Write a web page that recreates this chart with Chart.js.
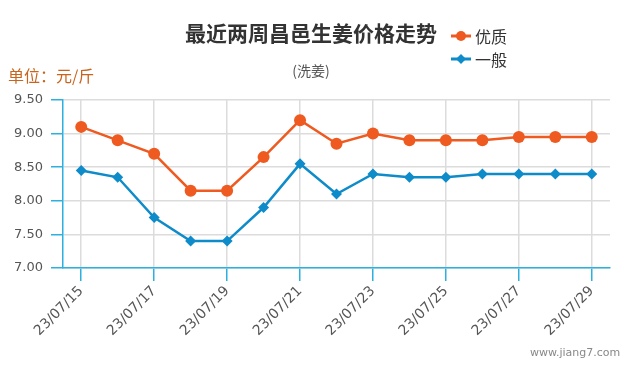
<!DOCTYPE html>
<html>
<head>
<meta charset="utf-8">
<script src="https://cdn.jsdelivr.net/npm/chart.js@4"></script>
<style>
  body { margin: 0; background: #fff; }
  #wrap { position: relative; width: 635px; height: 375px; font-family: "Noto Sans CJK SC", "DejaVu Sans", sans-serif; }
  #chart { position: absolute; left: 0; top: 0; }
  .txt { position: absolute; white-space: nowrap; line-height: 1; }
  #title { left: 0; width: 622px; top: 22px; text-align: center; font-size: 21px; font-weight: bold; color: #333; }
  #sub { left: 0; width: 622px; top: 63px; text-align: center; font-size: 14px; color: #555; }
  #unit { left: 8px; top: 67px; font-size: 16px; color: #c8641c; }
  #legend { left: 451px; top: 24px; font-size: 16px; color: #333; }
  .item { display: flex; align-items: center; height: 23px; }
  .item canvas { margin-right: 4px; }
  #mark { left: 530px; top: 347px; font-size: 11px; color: #888; font-family: "DejaVu Sans", sans-serif; }
</style>
</head>
<body>
<div id="wrap">
  <canvas id="chart" width="635" height="375"></canvas>
  <div class="txt" id="title">最近两周昌邑生姜价格走势</div>
  <div class="txt" id="sub">(洗姜)</div>
  <div class="txt" id="unit">单位：元/斤</div>
  <div class="txt" id="legend"></div>
  <div class="txt" id="mark">www.jiang7.com</div>
</div>
<script>
// ── data ─────────────────────────────────────────────────────────────────────
const dates = [
  '23/07/15', '23/07/16', '23/07/17', '23/07/18', '23/07/19',
  '23/07/20', '23/07/21', '23/07/22', '23/07/23', '23/07/24',
  '23/07/25', '23/07/26', '23/07/27', '23/07/28', '23/07/29',
];
const premium = [9.10, 8.90, 8.70, 8.15, 8.15, 8.65, 9.20, 8.85, 9.00, 8.90, 8.90, 8.90, 8.95, 8.95, 8.95];
const regular = [8.45, 8.35, 7.75, 7.40, 7.40, 7.90, 8.55, 8.10, 8.40, 8.35, 8.35, 8.40, 8.40, 8.40, 8.40];
const seriesNames = ['优质', '一般'];

// ── styling ──────────────────────────────────────────────────────────────────
const ORANGE = '#ee5a1f';
const BLUE = '#0e8bc9';
const AXIS = '#2cb0e0';
const GRID = '#dcdcdc';

const series = [
  { label: seriesNames[0], data: premium, color: ORANGE, style: 'circle', radius: 6 },
  { label: seriesNames[1], data: regular, color: BLUE, style: 'rectRot', radius: 5.5 },
];

new Chart(document.getElementById('chart'), {
  type: 'line',
  data: {
    labels: dates,
    datasets: series.map(s => ({
      label: s.label,
      data: s.data,
      borderColor: s.color,
      backgroundColor: s.color,
      borderWidth: 2.5,
      pointStyle: s.style,
      pointRadius: s.radius,
      pointBorderWidth: 0,
      tension: 0,
    })),
  },
  options: {
    responsive: false,
    animation: false,
    layout: { padding: { left: 0, right: 25, top: 100, bottom: 0 } },
    plugins: { legend: { display: false }, tooltip: { enabled: false } },
    scales: {
      x: {
        offset: true,
        afterFit: s => { s.height = 107; },
        grid: {
          color: c => (c.index % 2 === 0 ? GRID : 'rgba(0,0,0,0)'),
          tickColor: c => (c.index % 2 === 0 ? AXIS : 'rgba(0,0,0,0)'),
          tickLength: 13,
          lineWidth: 1.5,
        },
        border: { color: AXIS, width: 1.5 },
        ticks: {
          autoSkip: false,
          maxRotation: 45,
          minRotation: 45,
          font: { family: 'DejaVu Sans, sans-serif', size: 14 },
          color: '#555',
          padding: 2,
          callback: (v, i) => (i % 2 === 0 ? dates[i] : ''),
        },
      },
      y: {
        min: 7,
        max: 9.5,
        afterFit: s => { s.width = 63; },
        grid: { color: GRID, tickColor: AXIS, tickLength: 12, lineWidth: 1.5 },
        border: { color: AXIS, width: 1.5 },
        ticks: {
          stepSize: 0.5,
          font: { family: 'DejaVu Sans, sans-serif', size: 13 },
          color: '#555',
          padding: 8,
          callback: v => v.toFixed(2),
        },
      },
    },
  },
});

// legend
const legend = document.getElementById('legend');
series.forEach(s => {
  const item = document.createElement('div');
  item.className = 'item';
  const c = document.createElement('canvas');
  c.width = 20; c.height = 14;
  const g = c.getContext('2d');
  g.strokeStyle = s.color; g.fillStyle = s.color; g.lineWidth = 3;
  g.beginPath(); g.moveTo(0, 7); g.lineTo(20, 7); g.stroke();
  g.beginPath();
  if (s.style === 'circle') {
    g.arc(10, 7, 5, 0, Math.PI * 2);
  } else {
    g.moveTo(10, 2); g.lineTo(15, 7); g.lineTo(10, 12); g.lineTo(5, 7); g.closePath();
  }
  g.fill();
  item.appendChild(c);
  const t = document.createElement('span');
  t.textContent = s.label;
  item.appendChild(t);
  legend.appendChild(item);
});
</script>
</body>
</html>
